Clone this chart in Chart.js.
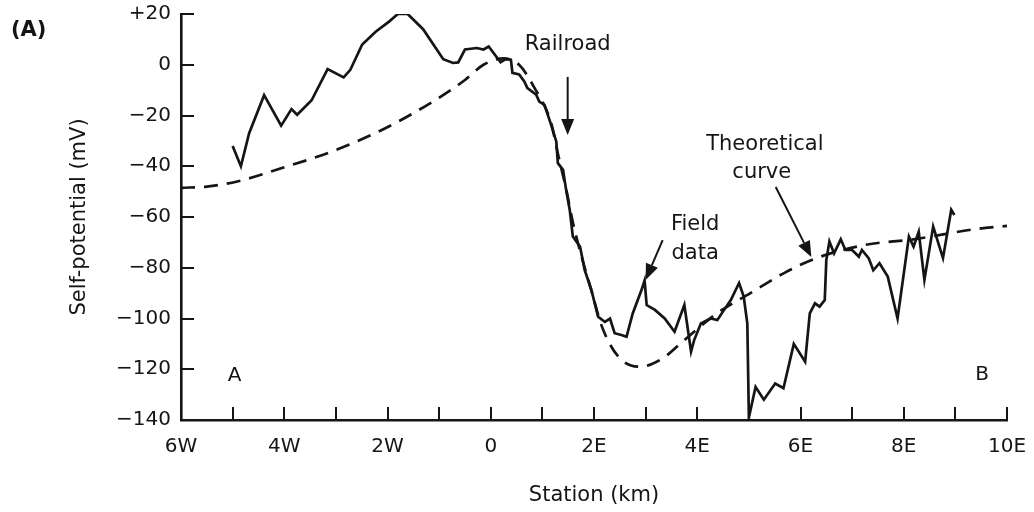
<!DOCTYPE html>
<html>
<head>
<meta charset="utf-8">
<title>Self-potential profile A–B</title>
<script src="https://cdn.jsdelivr.net/npm/chart.js@4.4.1/dist/chart.umd.min.js"></script>
<style>
  html, body { margin: 0; padding: 0; background: #fff; }
  canvas { display: block; }
</style>
</head>
<body>
<canvas id="sp" width="1034" height="512"></canvas>
<script>
// Field data: station (km, negative = west) and measured self-potential (mV)
const stationKm = [
  -5.0, -4.84, -4.68, -4.39, -4.06, -3.86, -3.75, -3.47, -3.16, -2.85, -2.72, -2.49,
  -2.23, -1.97, -1.80, -1.61, -1.31, -0.92, -0.73, -0.63, -0.50, -0.27, -0.14, -0.04,
  0.19, 0.29, 0.39, 0.42, 0.55, 0.65, 0.71, 0.88, 0.94, 1.04, 1.17, 1.27, 1.30, 1.40,
  1.46, 1.53, 1.59, 1.73, 1.82, 1.95, 2.08, 2.21, 2.31, 2.40, 2.53, 2.63, 2.75, 2.92,
  2.98, 3.02, 3.18, 3.37, 3.56, 3.75, 3.88, 3.94, 4.07, 4.26, 4.39, 4.52, 4.65, 4.81,
  4.90, 4.97, 5.00, 5.13, 5.29, 5.51, 5.67, 5.87, 6.09, 6.18, 6.28, 6.37, 6.47, 6.50,
  6.56, 6.65, 6.78, 6.87, 7.00, 7.13, 7.19, 7.32, 7.41, 7.53, 7.69, 7.88, 8.10, 8.19,
  8.29, 8.40, 8.57, 8.76, 8.92, 8.98
];
const fieldMv = [
  -32, -40, -27, -12, -24, -17.5, -19.7, -14, -1.7, -5, -2, 8,
  13, 17, 20, 20, 14, 2.2, 0.7, 0.9, 6, 6.6, 6, 7.2,
  1, 2.2, 2, -3.2, -3.8, -6.6, -9.2, -11.8, -14.5, -15.8, -23.7, -30.3, -38.8, -41.4,
  -49.3, -57.2, -67.7, -71.7, -80.9, -88.8, -99.3, -101.3, -100, -105.8, -106.5, -107.2, -98, -88.8,
  -85, -94.7, -96.6, -100, -105.2, -94.7, -113, -108.5, -102, -100, -100.6, -96.6, -92.7, -86,
  -91.4, -102, -139, -127, -132, -125.6, -127.5, -110, -117, -98, -94, -95.3, -92.7, -77,
  -69.7, -74.3, -68.8, -73, -73, -75.6, -73, -76.2, -81, -78.2, -83.5, -100, -67.7, -71.7,
  -65.8, -84.8, -63.8, -76.2, -57.2, -59.2
];

// Theoretical curve
const theoryKm = [-6, -5.5, -4.91, -4.06, -3.08, -2.10, -1.12, -0.5, -0.14, 0.25, 0.55, 0.83,
  1.17, 1.30, 1.46, 1.60, 1.82, 1.95, 2.15, 2.47, 2.90, 3.33, 3.75, 4.38, 5.03, 5.69,
  6.31, 7.25, 8.19, 9.38, 10];
const theoryMv = [-48.5, -48, -46, -40.8, -34.2, -25.6, -14.5, -6, 0, 2.5, 0, -8.5,
  -23, -35, -49, -63, -80, -89, -103, -115, -119, -115.7, -108.5, -98, -90, -82,
  -76.2, -71, -68.8, -64.8, -63.5];

// Axis tick labels
const xTickValues = [-6, -4, -2, 0, 2, 4, 6, 8, 10];
const xTickLabels = ['6W', '4W', '2W', '0', '2E', '4E', '6E', '8E', '10E'];
const yTickValues = [20, 0, -20, -40, -60, -80, -100, -120, -140];
const yTickLabels = ['+20', '0', '\u221220', '\u221240', '\u221260', '\u221280', '\u2212100', '\u2212120', '\u2212140'];

// Labels written on the plot (data coordinates)
const noteText = ['Railroad', 'Field', 'data', 'Theoretical', 'curve', 'A', 'B'];
const noteKm   = [1.49, 3.96, 3.96, 5.31, 5.25, -4.96, 9.52];
const noteMv   = [7.8, -62.8, -74.4, -31.6, -42.3, -122.7, -122.3];
const noteSize = [21, 21, 21, 21, 21, 20, 20];

// Pointer arrows: tail -> head (data coordinates)
const arrowFromKm = [1.49, 3.33, 5.52];
const arrowFromMv = [-4.8, -69.1, -48.2];
const arrowToKm   = [1.49, 3.00, 6.21];
const arrowToMv   = [-27.7, -84.8, -75.8];

const INK = '#151515';
const FONT = '"DejaVu Sans", "Liberation Sans", sans-serif';

const pairs = (xs, ys) => xs.map((v, i) => ({ x: v, y: ys[i] }));

// Short tick marks drawn inward from both axes
const inwardTicks = {
  id: 'inwardTicks',
  afterDatasetsDraw(chart) {
    const { ctx, chartArea: a, scales: { x, y } } = chart;
    ctx.save();
    ctx.strokeStyle = INK;
    ctx.lineWidth = 2;
    ctx.beginPath();
    x.ticks.forEach(t => {
      if (t.value <= x.min) return;
      const px = Math.round(x.getPixelForValue(t.value));
      ctx.moveTo(px, a.bottom);
      ctx.lineTo(px, a.bottom - 13);
    });
    y.ticks.forEach(t => {
      const py = Math.round(y.getPixelForValue(t.value));
      ctx.moveTo(a.left, py);
      ctx.lineTo(a.left + 13, py);
    });
    ctx.stroke();
    ctx.restore();
  }
};

// Panel letter, annotations and arrows
const annotations = {
  id: 'annotations',
  afterDraw(chart) {
    const { ctx, scales: { x, y } } = chart;
    ctx.save();
    ctx.fillStyle = INK;
    ctx.strokeStyle = INK;

    ctx.font = 'bold 21px ' + FONT;
    ctx.textAlign = 'left';
    ctx.textBaseline = 'middle';
    ctx.fillText('(A)', 11, 31);

    ctx.textAlign = 'center';
    noteText.forEach((t, i) => {
      ctx.font = noteSize[i] + 'px ' + FONT;
      ctx.fillText(t, x.getPixelForValue(noteKm[i]), y.getPixelForValue(noteMv[i]));
    });

    arrowFromKm.forEach((_, i) => {
      const x0 = x.getPixelForValue(arrowFromKm[i]);
      const y0 = y.getPixelForValue(arrowFromMv[i]);
      const x1 = x.getPixelForValue(arrowToKm[i]);
      const y1 = y.getPixelForValue(arrowToMv[i]);
      const ang = Math.atan2(y1 - y0, x1 - x0);
      const len = 16, half = 6.5;
      const bx = x1 - len * Math.cos(ang), by = y1 - len * Math.sin(ang);
      ctx.lineWidth = 2;
      ctx.beginPath();
      ctx.moveTo(x0, y0);
      ctx.lineTo(bx, by);
      ctx.stroke();
      ctx.beginPath();
      ctx.moveTo(x1, y1);
      ctx.lineTo(bx + half * Math.sin(ang), by - half * Math.cos(ang));
      ctx.lineTo(bx - half * Math.sin(ang), by + half * Math.cos(ang));
      ctx.closePath();
      ctx.fill();
    });
    ctx.restore();
  }
};

new Chart(document.getElementById('sp'), {
  type: 'scatter',
  data: {
    datasets: [
      {
        label: 'Theoretical curve',
        data: pairs(theoryKm, theoryMv),
        showLine: true,
        borderColor: INK,
        borderWidth: 2.7,
        borderDash: [14, 9],
        pointRadius: 0,
        cubicInterpolationMode: 'monotone',
        fill: false
      },
      {
        label: 'Field data',
        data: pairs(stationKm, fieldMv),
        showLine: true,
        borderColor: INK,
        borderWidth: 2.7,
        pointRadius: 0,
        tension: 0,
        fill: false
      }
    ]
  },
  options: {
    responsive: false,
    animation: false,
    events: [],
    layout: { padding: { left: 0, right: 27, top: 14, bottom: 0 } },
    plugins: { legend: { display: false }, tooltip: { enabled: false }, title: { display: false } },
    scales: {
      x: {
        type: 'linear',
        min: -6,
        max: 10,
        afterFit: s => { s.height = 92; },
        grid: { display: false, drawTicks: true, tickLength: 13 },
        border: { display: true, color: INK, width: 2.6 },
        ticks: {
          stepSize: 1,
          autoSkip: false,
          maxRotation: 0,
          padding: 2,
          color: INK,
          font: { family: FONT, size: 20 },
          callback: v => {
            const i = xTickValues.indexOf(v);
            return i >= 0 ? xTickLabels[i] : '';
          }
        },
        title: {
          display: true,
          text: 'Station (km)',
          color: INK,
          font: { family: FONT, size: 21 },
          padding: { top: 0, bottom: 4 }
        }
      },
      y: {
        type: 'linear',
        min: -140,
        max: 20,
        afterFit: s => { s.width = 181; },
        grid: { display: false, drawTicks: true, tickLength: 8 },
        border: { display: true, color: INK, width: 2.6 },
        ticks: {
          stepSize: 20,
          autoSkip: false,
          padding: 2,
          color: INK,
          font: { family: FONT, size: 20 },
          callback: v => {
            const i = yTickValues.indexOf(v);
            return i >= 0 ? yTickLabels[i] : '';
          }
        },
        title: {
          display: true,
          text: 'Self-potential (mV)',
          color: INK,
          font: { family: FONT, size: 21 },
          padding: { top: 67, bottom: 0 }
        }
      }
    }
  },
  plugins: [inwardTicks, annotations]
});
</script>
</body>
</html>
